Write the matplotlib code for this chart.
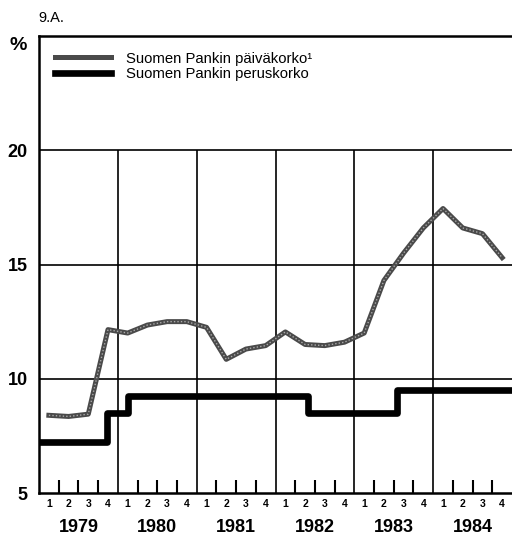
import matplotlib
matplotlib.use("Agg")
import matplotlib.pyplot as plt
import matplotlib.transforms as mtransforms

plt.rcParams['font.family'] = ['Liberation Sans', 'DejaVu Sans']

# Data (quarters 1979Q1 .. 1984Q4)
years = ['1979', '1980', '1981', '1982', '1983', '1984']
quarter_labels = ['1', '2', '3', '4']
day_rate = [8.4, 8.35, 8.45, 12.15, 12.0, 12.35, 12.5, 12.5,
            12.25, 10.85, 11.3, 11.45, 12.05, 11.5, 11.45, 11.6,
            12.0, 14.3, 15.5, 16.6, 17.45, 16.6, 16.35, 15.3]
# Base rate: change points (in quarters from start of 1979) and levels
base_change = [0, 3.45, 4.5, 13.67, 18.18, 24]
base_rate = [7.25, 8.5, 9.25, 8.5, 9.5, 9.5]
y_ticks = [5, 10, 15, 20]
label_day = 'Suomen Pankin päiväkorko¹'
label_base = 'Suomen Pankin peruskorko'

fig = plt.figure(figsize=(5.12, 5.38), dpi=100)
ax = fig.add_axes([39/512, 1-493/538, 1-39/512, (493-36)/538])

nq = len(day_rate)
xq = [i + 0.5 for i in range(nq)]

ax.set_xlim(0, 24)
ax.set_ylim(5, 25)

# grid
ax.hlines([10, 15, 20], 0, 24, color='black', lw=1.2, zorder=1)
ax.vlines([4 * k for k in range(1, len(years))], 5, 20, color='black', lw=1.2, zorder=1)

l1, = ax.plot(xq, day_rate, color='#4a4a4a', lw=3.6, solid_joinstyle='round', zorder=3)
ax.plot(xq, day_rate, color='#aaaaaa', lw=1.0, ls=(0, (1, 1.5)), zorder=4)
l2, = ax.plot(base_change, base_rate, color='black', lw=4.8, drawstyle='steps-post', zorder=3)

for s in ['right']:
    ax.spines[s].set_visible(False)
for s in ['left', 'bottom', 'top']:
    ax.spines[s].set_linewidth(1.8)

# quarter tick marks
major = [i for i in range(1, 24) if i % 4 != 0]
ax.set_xticks(major)
ax.set_xticklabels([''] * len(major))
ax.tick_params(axis='x', which='major', direction='in', length=9.5, width=1.5)
ax.set_xticks(xq, minor=True)
ax.set_xticklabels(quarter_labels * len(years), minor=True, fontsize=7.5, fontweight='bold')
ax.tick_params(axis='x', which='minor', length=0, pad=4)

ax.set_yticks(y_ticks)
ax.set_yticklabels([str(v) for v in y_ticks], fontsize=13, fontweight='bold')
ax.tick_params(axis='y', length=0, pad=8)

trans = mtransforms.blended_transform_factory(ax.transData, fig.transFigure)
for k, yr in enumerate(years):
    ax.text(4 * k + 2, 1 - 527/538, yr, transform=trans, ha='center', va='center',
            fontsize=13, fontweight='bold')

fig.text(38/512, 1 - 18/538, '9.A.', ha='left', va='center', fontsize=10.5)
fig.text(9/512, 1 - 45/538, '%', ha='left', va='center', fontsize=14, fontweight='bold')

leg = ax.legend([l1, l2], [label_day, label_base], loc='upper left',
                bbox_to_anchor=(16/473, 0.966), frameon=False, fontsize=10.7,
                handlelength=3.8, handletextpad=1.0, labelspacing=0.08,
                borderaxespad=0.0, borderpad=0.0)

fig.savefig('out.png', dpi=100)
